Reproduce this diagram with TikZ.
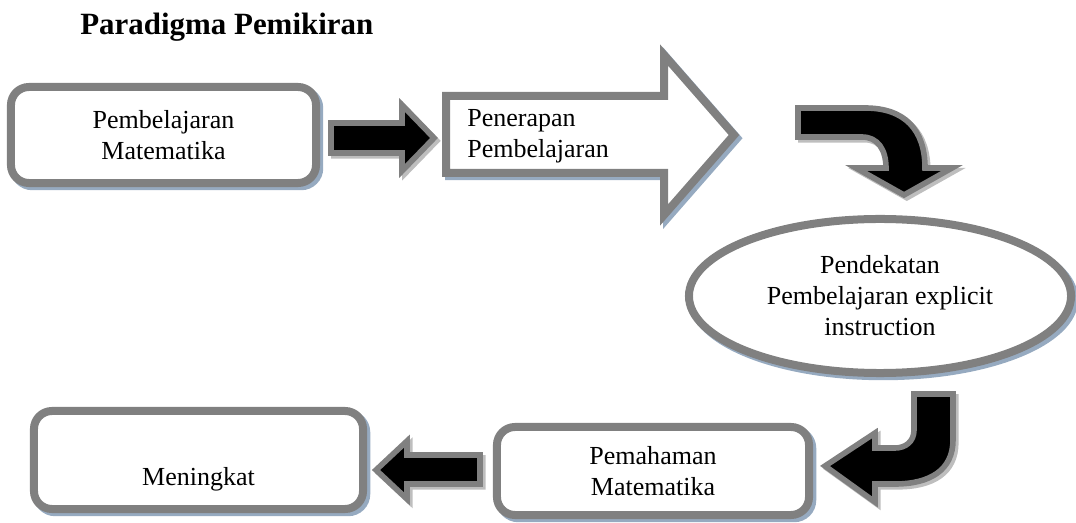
\documentclass[tikz,border=0pt]{standalone}
\usepackage{fontspec}
\setmainfont{Liberation Serif}
\usepackage{xcolor}
\usepackage{tikz}
\usetikzlibrary{shapes.geometric, shadows}
\definecolor{cborder}{RGB}{128,128,128}
\definecolor{cshadow}{RGB}{150,170,192}
\definecolor{cgrayshadow}{RGB}{190,190,190}

\begin{document}
\begin{tikzpicture}[
    x=0.025cm, y=-0.025cm,
    every node/.style={font=\fontsize{18.5}{22}\selectfont, inner sep=0pt},
    boxnode/.style={draw=cborder, fill=white, line width=0.2cm, rounded corners=0.45cm, align=center,
        drop shadow={shadow xshift=0.08cm, shadow yshift=-0.08cm, draw=cshadow, fill=cshadow, line width=0.2cm, opacity=1}},
    ovalnode/.style={ellipse, draw=cborder, fill=white, line width=0.2cm, align=center,
        drop shadow={shadow xshift=0.08cm, shadow yshift=-0.08cm, draw=cshadow, fill=cshadow, line width=0.2cm, opacity=1}},
    blockarrow/.style={draw=cborder, fill=black, line width=0.14cm,
        drop shadow={shadow xshift=0.07cm, shadow yshift=-0.07cm, draw=cgrayshadow, fill=cgrayshadow, line width=0.14cm, opacity=1}},
]
    \useasboundingbox (0,0) rectangle (1076,523);

    % Title
    \node[anchor=base west, font=\fontsize{22}{26}\selectfont\bfseries] (title) at (80,35) {Paradigma Pemikiran};

    % Top row
    \node[boxnode, minimum width=7.625cm, minimum height=2.4cm] (pembelajaran) at (163.5,135) {Pembelajaran\\Matematika};
    \filldraw[blockarrow] (331,123) -- (402,123) -- (402,105) -- (434,138) -- (402,171) -- (402,153) -- (331,153) -- cycle;

    % Big arrow with text
    \filldraw[draw=cborder, fill=white, line width=0.2cm,
        drop shadow={shadow xshift=0.08cm, shadow yshift=-0.08cm, draw=cshadow, fill=cshadow, line width=0.2cm, opacity=1}]
        (446,96) -- (664,96) -- (664,55) -- (734,135) -- (664,215) -- (664,173) -- (446,173) -- cycle;
    \node[anchor=west, align=left] (penerapan) at (467,136) {Penerapan\\Pembelajaran};

    % Bent arrow down
    \filldraw[blockarrow] (798,108) -- (865,108) .. controls (905,108) and (925,130) .. (925,168)
        -- (952,168) -- (904,195) -- (856,168) -- (886,168)
        .. controls (886,150) and (878,137) .. (862,137) -- (798,137) -- cycle;

    % Approach
    \node[ovalnode, minimum width=9.55cm, minimum height=3.85cm] (pendekatan) at (880,296) {Pendekatan\\Pembelajaran explicit\\instruction};

    % Bent arrow left
    \filldraw[blockarrow] (914,394) -- (953,394) -- (953,440) .. controls (953,470) and (930,484) .. (895,484)
        -- (875,484) -- (875,502) -- (825,466) -- (875,433) -- (875,448) -- (895,448)
        .. controls (905,448) and (914,442) .. (914,430) -- cycle;

    % Bottom row
    \node[boxnode, minimum width=7.8cm, minimum height=2.2cm] (pemahaman) at (653,471) {Pemahaman\\Matematika};
    \filldraw[blockarrow] (376,470) -- (407,441) -- (407,455) -- (480,455) -- (480,484) -- (407,484) -- (407,499) -- cycle;
    \node[boxnode, minimum width=8.225cm, minimum height=2.45cm] (meningkat) at (198.5,460) {};
    \node (meningkatlbl) at (198.5,479) {Meningkat};
\end{tikzpicture}
\end{document}
